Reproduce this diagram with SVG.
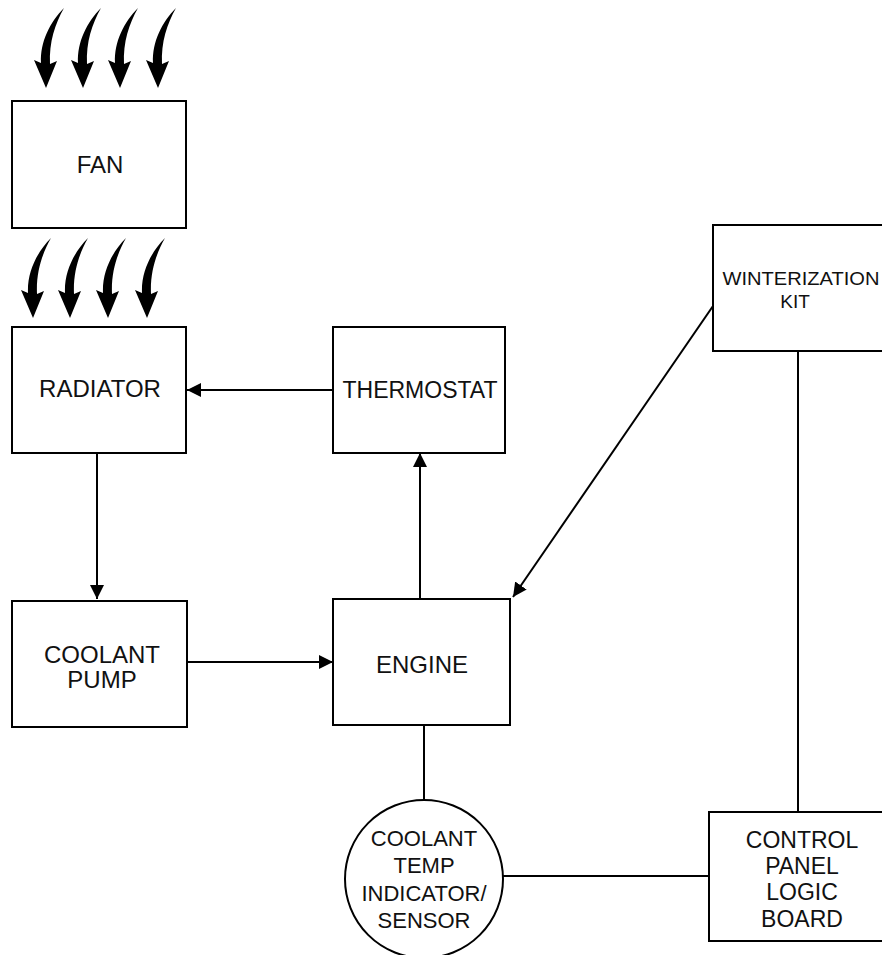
<svg xmlns="http://www.w3.org/2000/svg" width="882" height="955" viewBox="0 0 882 955">
<defs>
<style>
.box{fill:#fff;stroke:#000;stroke-width:2}
.ln{fill:none;stroke:#000;stroke-width:2}
.t{font-family:"Liberation Sans",Arial,sans-serif;font-size:24px;fill:#111;text-anchor:middle}
</style>
<marker id="ah" viewBox="0 0 10 10" refX="10" refY="5" markerWidth="14" markerHeight="14" markerUnits="userSpaceOnUse" orient="auto">
<path d="M0,0 L10,5 L0,10 Z" fill="#000"/>
</marker>
<path id="air" d="M18,-80 C4,-66 -6,-46 -5,-25 L-12,-28 L0,0 L11,-27 L4,-24 C3,-46 9,-64 18,-80 Z" fill="#000"/>
</defs>
<g id="airflow-top">
<use href="#air" x="46" y="88"/>
<use href="#air" x="83" y="88"/>
<use href="#air" x="120" y="88"/>
<use href="#air" x="158" y="88"/>
</g>
<g id="airflow-mid">
<use href="#air" x="33" y="318"/>
<use href="#air" x="70" y="318"/>
<use href="#air" x="108" y="318"/>
<use href="#air" x="147" y="318"/>
</g>
<g id="connectors">
<line class="ln" x1="97" y1="453" x2="97" y2="599" marker-end="url(#ah)"/>
<line class="ln" x1="187" y1="662" x2="333" y2="662" marker-end="url(#ah)"/>
<line class="ln" x1="420" y1="599" x2="420" y2="453" marker-end="url(#ah)"/>
<line class="ln" x1="333" y1="390" x2="187" y2="390" marker-end="url(#ah)"/>
<line class="ln" x1="713" y1="306" x2="513" y2="597" marker-end="url(#ah)"/>
<line class="ln" x1="424" y1="725" x2="424" y2="800"/>
<line class="ln" x1="503" y1="876" x2="709" y2="876"/>
<line class="ln" x1="798" y1="351" x2="798" y2="812"/>
</g>
<g id="fan">
<rect class="box" x="12" y="101" width="174" height="127"/>
<text class="t" x="100" y="173">FAN</text>
</g>
<g id="radiator">
<rect class="box" x="12" y="327" width="174" height="126"/>
<text class="t" x="100" y="397">RADIATOR</text>
</g>
<g id="thermostat">
<rect class="box" x="333" y="327" width="172" height="126"/>
<text class="t" x="420" y="398" style="font-size:23px">THERMOSTAT</text>
</g>
<g id="coolant-pump">
<rect class="box" x="12" y="601" width="175" height="126"/>
<text class="t" x="102" y="663">COOLANT</text>
<text class="t" x="102" y="688">PUMP</text>
</g>
<g id="engine">
<rect class="box" x="333" y="599" width="177" height="126"/>
<text class="t" x="422" y="673">ENGINE</text>
</g>
<g id="winterization-kit">
<rect class="box" x="713" y="225" width="180" height="126"/>
<text class="t" x="801" y="285" style="font-size:19px" textLength="157" lengthAdjust="spacingAndGlyphs">WINTERIZATION</text>
<text class="t" x="795" y="308" style="font-size:19px">KIT</text>
</g>
<g id="coolant-temp-sensor">
<circle class="box" cx="424" cy="879" r="79"/>
<text class="t" x="424" y="846" style="font-size:22px">COOLANT</text>
<text class="t" x="424" y="873" style="font-size:22px">TEMP</text>
<text class="t" x="424" y="901" style="font-size:22px">INDICATOR/</text>
<text class="t" x="424" y="928" style="font-size:22px">SENSOR</text>
</g>
<g id="control-panel">
<rect class="box" x="709" y="812" width="180" height="129"/>
<text class="t" x="802" y="848" style="font-size:23px">CONTROL</text>
<text class="t" x="802" y="874" style="font-size:23px">PANEL</text>
<text class="t" x="802" y="900" style="font-size:23px">LOGIC</text>
<text class="t" x="802" y="927" style="font-size:23px">BOARD</text>
</g>
</svg>
